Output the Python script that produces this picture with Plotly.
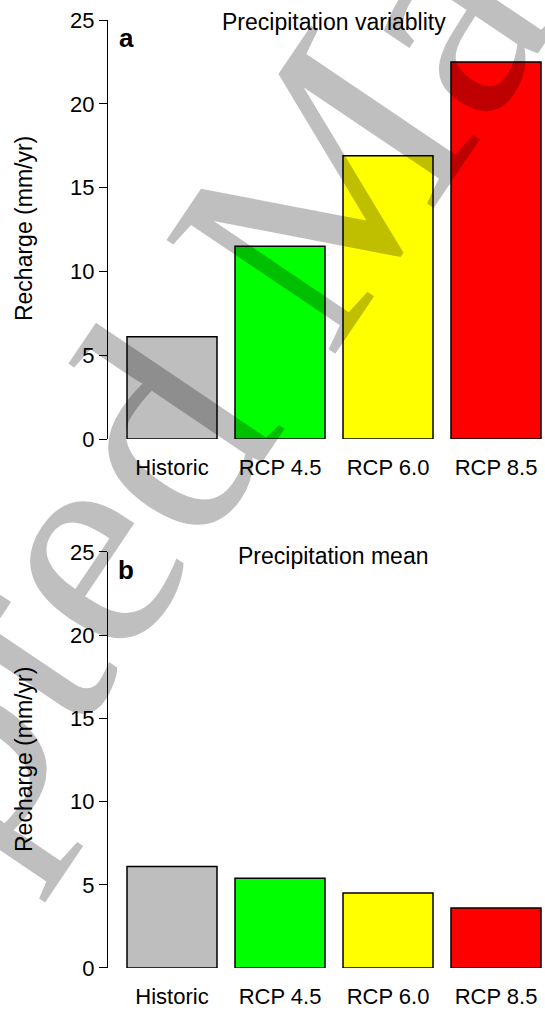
import plotly.graph_objects as go

categories = ["Historic", "RCP 4.5", "RCP 6.0", "RCP 8.5"]
variability = [6.1, 11.5, 16.9, 22.5]
mean_vals = [6.1, 5.4, 4.5, 3.6]
bar_colors = ["#bebebe", "#00ff00", "#ffff00", "#ff0000"]
y_ticks = [0, 5, 10, 15, 20, 25]
titles = ["Precipitation variablity", "Precipitation mean"]
panel_letters = ["a", "b"]
y_label = "Recharge (mm/yr)"
watermark = "Accepted Manuscript"

FONT = "Liberation Sans, Arial, sans-serif"

fig = go.Figure()
for i, vals in enumerate([variability, mean_vals]):
    ax = "" if i == 0 else "2"
    fig.add_trace(go.Bar(
        x=categories, y=vals,
        marker=dict(color=bar_colors, line=dict(color="black", width=1.5)),
        xaxis="x" + ax, yaxis="y" + ax, showlegend=False, hoverinfo="skip",
    ))

xrange = [-0.5926, 3.4537]
common_x = dict(range=xrange, showline=False, showgrid=False, zeroline=False,
                ticks="outside", ticklen=9, tickcolor="rgba(0,0,0,0)",
                tickfont=dict(family=FONT, size=22, color="black"))
common_y = dict(range=[0, 25], tickvals=y_ticks, showline=True, linecolor="black",
                linewidth=1.3, ticks="outside", ticklen=8, tickwidth=1.3,
                tickcolor="black", showgrid=False, zeroline=False,
                tickfont=dict(family=FONT, size=22, color="black"))

fig.update_layout(
    width=545, height=1010,
    margin=dict(l=108, r=0, t=20, b=42),
    paper_bgcolor="white", plot_bgcolor="white",
    bargap=0.1667,
    xaxis=dict(domain=[0, 1], anchor="y", **common_x),
    yaxis=dict(domain=[0.55802, 1.0], anchor="x", **common_y),
    xaxis2=dict(domain=[0, 1], anchor="y2", **common_x),
    yaxis2=dict(domain=[0, 0.43882], anchor="x2", **common_y),
)

ann = []
title_y = [0.9979, 0.4346]
letter_y = [0.981, 0.4198]
label_y = [0.7795, 0.2194]
for i in range(2):
    ann.append(dict(text=titles[i], x=0.517, y=title_y[i], xref="paper", yref="paper",
                    xanchor="center", yanchor="middle", showarrow=False,
                    font=dict(family=FONT, size=23, color="black")))
    ann.append(dict(text="<b>" + panel_letters[i] + "</b>", x=0.0412, y=letter_y[i],
                    xref="paper", yref="paper", xanchor="center", yanchor="middle",
                    showarrow=False, font=dict(family=FONT, size=26, color="black")))
    ann.append(dict(text=y_label, x=-0.1922, y=label_y[i], xref="paper", yref="paper",
                    xanchor="center", yanchor="middle", textangle=-90, showarrow=False,
                    font=dict(family=FONT, size=23, color="black")))

ann.append(dict(text=watermark, x=(290 - 108) / 437, y=(968 - 235) / 948,
                xref="paper", yref="paper",
                xanchor="center", yanchor="middle", textangle=-56, showarrow=False,
                font=dict(family="Liberation Serif, Times New Roman, serif", size=311,
                          color="rgba(0,0,0,0.25)")))
fig.update_layout(annotations=ann)

fig.write_html("out.html")
